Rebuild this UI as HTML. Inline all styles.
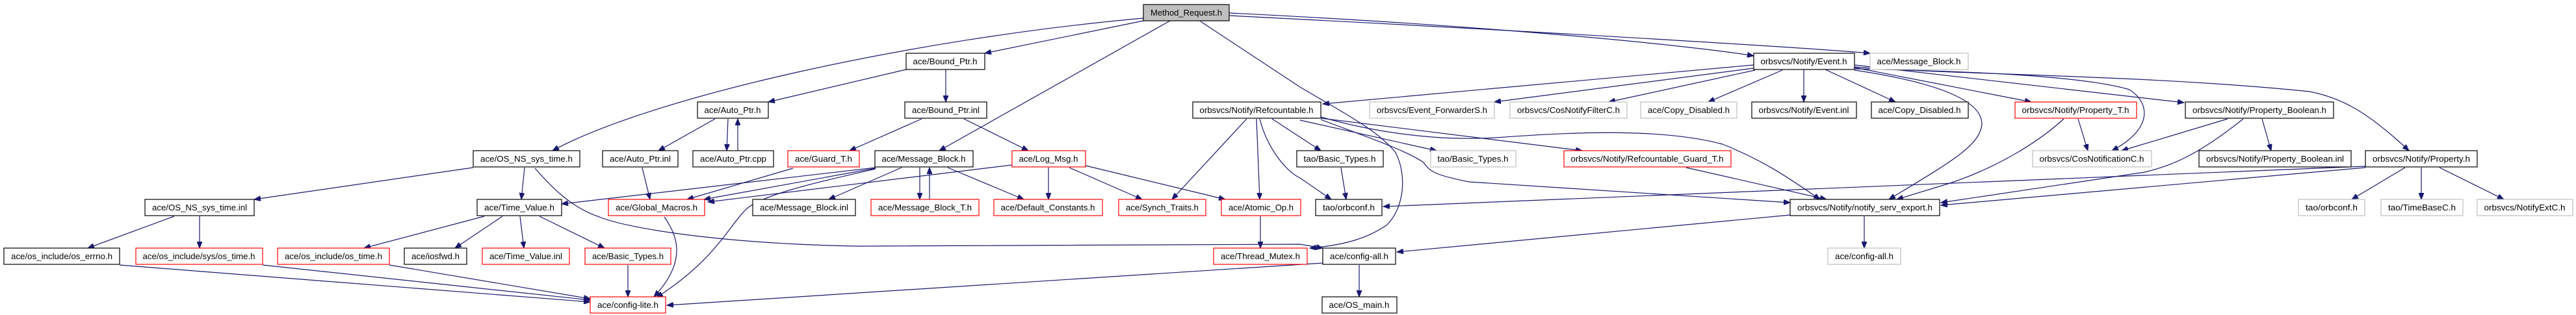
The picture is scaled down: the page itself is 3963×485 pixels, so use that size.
<!DOCTYPE html>
<html><head><meta charset="utf-8"><style>
html,body{margin:0;padding:0;background:#fff;}
svg{display:block;}
text{font-family:"Liberation Sans",sans-serif;font-size:13px;fill:#000;}
.e{fill:none;stroke:#191970;stroke-width:1.2;}
.k{fill:#fff;stroke:#000;stroke-width:1.2;}
.r{fill:#fff;stroke:#ff0000;stroke-width:1.2;}
.g{fill:#fff;stroke:#bfbfbf;stroke-width:1.2;}
</style></head><body>
<svg width="3963" height="485" viewBox="0 0 3963 485" xmlns="http://www.w3.org/2000/svg">
<defs><marker id="a" markerUnits="userSpaceOnUse" markerWidth="11" markerHeight="8" refX="10" refY="4" orient="auto"><path d="M0,0 L10,4 L0,8 Z" fill="#191970" stroke="#191970"/></marker></defs>
<g marker-end="url(#a)">
<path class="e" d="M1759,28 C1400,60 1000,150 850,232"/>
<path class="e" d="M1759,32 L1515,82"/>
<path class="e" d="M1800,32 L1445,232"/>
<path class="e" d="M1847,33 L2000,134 C2060,170 2120,200 2147,235 C2165,270 2160,320 2134,346 C2100,370 2060,378 2015,382"/>
<path class="e" d="M1891,20 C2300,40 2600,70 2698,86"/>
<path class="e" d="M1891,24 C2400,50 2800,75 2877,82"/>
<path class="e" d="M2698,100 L2035,160"/>
<path class="e" d="M2698,105 L2299,157"/>
<path class="e" d="M2700,108 L2475,157"/>
<path class="e" d="M2742,108 L2628,157"/>
<path class="e" d="M2775,107 L2775,157"/>
<path class="e" d="M2808,107 L2916,157"/>
<path class="e" d="M2853,104 L3125,157"/>
<path class="e" d="M2853,100 L3360,158"/>
<path class="e" d="M2853,103 C3000,115 3300,115 3553,141 C3600,150 3640,170 3706,232"/>
<path class="e" d="M2853,106 C3000,109 3200,115 3276,138 C3310,160 3310,200 3249,232"/>
<path class="e" d="M2853,108 C3000,130 3050,160 3049,192 C3045,225 3000,250 2906,307"/>
<path class="e" d="M3197,183 L3212,232"/>
<path class="e" d="M3175,183 C3140,215 3080,255 3000,282 L2918,307"/>
<path class="e" d="M3427,183 L3264,232"/>
<path class="e" d="M3451,183 C3380,240 3340,255 3300,265 L2986,312"/>
<path class="e" d="M3480,183 L3494,232"/>
<path class="e" d="M3700,258 L3618,307"/>
<path class="e" d="M3725,258 L3725,307"/>
<path class="e" d="M3753,258 L3852,307"/>
<path class="e" d="M3639,258 L2986,316"/>
<path class="e" d="M3639,256 L2128,318"/>
<path class="e" d="M2594,258 L2810,307"/>
<path class="e" d="M2868,333 L2868,382"/>
<path class="e" d="M2754,331 L2149,388"/>
<path class="e" d="M2091,408 L2091,457"/>
<path class="e" d="M2035,405 L1026,470"/>
<path class="e" d="M2063,258 L2071,307"/>
<path class="e" d="M1918,183 L1803,307"/>
<path class="e" d="M1933,183 L1938,307"/>
<path class="e" d="M1938,183 C1950,230 1980,265 2000,274 L2048,307"/>
<path class="e" d="M1957,183 L2032,232"/>
<path class="e" d="M2000,185 L2210,232"/>
<path class="e" d="M2032,182 L2434,232"/>
<path class="e" d="M2032,184 C2100,210 2160,230 2190,250 C2200,265 2210,270 2260,280 L2754,312"/>
<path class="e" d="M2032,180 C2100,200 2200,218 2300,212 C2400,205 2550,195 2650,222 C2720,250 2760,280 2800,307"/>
<path class="e" d="M1347,258 L864,314"/>
<path class="e" d="M1220,259 L1057,307"/>
<path class="e" d="M1557,254 L1089,311"/>
<path class="e" d="M1347,259 L1083,307"/>
<path class="e" d="M1347,260 C1260,280 1170,300 1147,323 C1120,350 1100,400 1010,458"/>
<path class="e" d="M1022,334 C1040,360 1060,400 1006,457"/>
<path class="e" d="M1387,258 L1275,307"/>
<path class="e" d="M1415,258 L1415,307"/>
<path class="e" d="M1430,307 L1430,258"/>
<path class="e" d="M1458,258 L1575,307"/>
<path class="e" d="M1613,258 L1613,307"/>
<path class="e" d="M1645,258 L1757,307"/>
<path class="e" d="M1670,255 L1885,307"/>
<path class="e" d="M1939,333 L1939,382"/>
<path class="e" d="M1394,107 L1182,157"/>
<path class="e" d="M1455,107 L1455,157"/>
<path class="e" d="M1418,183 L1307,232"/>
<path class="e" d="M1483,183 L1582,232"/>
<path class="e" d="M1100,183 L1013,232"/>
<path class="e" d="M1120,183 L1118,232"/>
<path class="e" d="M1135,232 L1135,183"/>
<path class="e" d="M988,258 L1000,307"/>
<path class="e" d="M728,258 L391,307"/>
<path class="e" d="M807,258 L802,307"/>
<path class="e" d="M823,259 C850,290 880,320 922,334 C960,350 1100,375 1319,379 L2000,376 L2035,382"/>
<path class="e" d="M268,333 L135,382"/>
<path class="e" d="M307,333 L307,382"/>
<path class="e" d="M745,333 L560,382"/>
<path class="e" d="M773,333 L700,382"/>
<path class="e" d="M800,333 L806,382"/>
<path class="e" d="M830,333 L930,382"/>
<path class="e" d="M184,408 L908,465"/>
<path class="e" d="M404,408 L908,462"/>
<path class="e" d="M599,408 L908,460"/>
<path class="e" d="M966,408 L966,457"/>
</g>
<g>
<rect x="1759" y="7" width="132" height="25" fill="#bfbfbf" stroke="#000" stroke-width="1.2"/><text x="1825" y="24" text-anchor="middle" textLength="110" lengthAdjust="spacingAndGlyphs">Method_Request.h</text>
<rect class="k" x="1394" y="82" width="121" height="25"/><text x="1454" y="99" text-anchor="middle" textLength="99" lengthAdjust="spacingAndGlyphs">ace/Bound_Ptr.h</text>
<rect class="k" x="2698" y="82" width="155" height="25"/><text x="2775" y="99" text-anchor="middle" textLength="133" lengthAdjust="spacingAndGlyphs">orbsvcs/Notify/Event.h</text>
<rect class="g" x="2877" y="82" width="151" height="25"/><text x="2952" y="99" text-anchor="middle" textLength="129" lengthAdjust="spacingAndGlyphs">ace/Message_Block.h</text>
<rect class="k" x="1073" y="157" width="109" height="25"/><text x="1127" y="174" text-anchor="middle" textLength="87" lengthAdjust="spacingAndGlyphs">ace/Auto_Ptr.h</text>
<rect class="k" x="1392" y="157" width="126" height="25"/><text x="1455" y="174" text-anchor="middle" textLength="104" lengthAdjust="spacingAndGlyphs">ace/Bound_Ptr.inl</text>
<rect class="k" x="1835" y="157" width="197" height="25"/><text x="1933" y="174" text-anchor="middle" textLength="175" lengthAdjust="spacingAndGlyphs">orbsvcs/Notify/Refcountable.h</text>
<rect class="g" x="2107" y="157" width="192" height="25"/><text x="2203" y="174" text-anchor="middle" textLength="170" lengthAdjust="spacingAndGlyphs">orbsvcs/Event_ForwarderS.h</text>
<rect class="g" x="2323" y="157" width="180" height="25"/><text x="2413" y="174" text-anchor="middle" textLength="158" lengthAdjust="spacingAndGlyphs">orbsvcs/CosNotifyFilterC.h</text>
<rect class="g" x="2524" y="157" width="148" height="25"/><text x="2598" y="174" text-anchor="middle" textLength="126" lengthAdjust="spacingAndGlyphs">ace/Copy_Disabled.h</text>
<rect class="k" x="2695" y="157" width="161" height="25"/><text x="2775" y="174" text-anchor="middle" textLength="139" lengthAdjust="spacingAndGlyphs">orbsvcs/Notify/Event.inl</text>
<rect class="k" x="2879" y="157" width="149" height="25"/><text x="2953" y="174" text-anchor="middle" textLength="127" lengthAdjust="spacingAndGlyphs">ace/Copy_Disabled.h</text>
<rect class="r" x="3100" y="157" width="187" height="25"/><text x="3193" y="174" text-anchor="middle" textLength="165" lengthAdjust="spacingAndGlyphs">orbsvcs/Notify/Property_T.h</text>
<rect class="k" x="3362" y="157" width="228" height="25"/><text x="3476" y="174" text-anchor="middle" textLength="206" lengthAdjust="spacingAndGlyphs">orbsvcs/Notify/Property_Boolean.h</text>
<rect class="k" x="728" y="232" width="164" height="25"/><text x="810" y="249" text-anchor="middle" textLength="142" lengthAdjust="spacingAndGlyphs">ace/OS_NS_sys_time.h</text>
<rect class="k" x="927" y="232" width="116" height="25"/><text x="985" y="249" text-anchor="middle" textLength="94" lengthAdjust="spacingAndGlyphs">ace/Auto_Ptr.inl</text>
<rect class="k" x="1066" y="232" width="124" height="25"/><text x="1128" y="249" text-anchor="middle" textLength="102" lengthAdjust="spacingAndGlyphs">ace/Auto_Ptr.cpp</text>
<rect class="r" x="1212" y="232" width="110" height="25"/><text x="1267" y="249" text-anchor="middle" textLength="88" lengthAdjust="spacingAndGlyphs">ace/Guard_T.h</text>
<rect class="k" x="1346" y="232" width="151" height="25"/><text x="1421" y="249" text-anchor="middle" textLength="129" lengthAdjust="spacingAndGlyphs">ace/Message_Block.h</text>
<rect class="r" x="1557" y="232" width="113" height="25"/><text x="1613" y="249" text-anchor="middle" textLength="91" lengthAdjust="spacingAndGlyphs">ace/Log_Msg.h</text>
<rect class="k" x="1995" y="232" width="133" height="25"/><text x="2061" y="249" text-anchor="middle" textLength="111" lengthAdjust="spacingAndGlyphs">tao/Basic_Types.h</text>
<rect class="g" x="2201" y="232" width="131" height="25"/><text x="2266" y="249" text-anchor="middle" textLength="109" lengthAdjust="spacingAndGlyphs">tao/Basic_Types.h</text>
<rect class="r" x="2406" y="232" width="257" height="25"/><text x="2534" y="249" text-anchor="middle" textLength="235" lengthAdjust="spacingAndGlyphs">orbsvcs/Notify/Refcountable_Guard_T.h</text>
<rect class="g" x="3127" y="232" width="183" height="25"/><text x="3218" y="249" text-anchor="middle" textLength="161" lengthAdjust="spacingAndGlyphs">orbsvcs/CosNotificationC.h</text>
<rect class="k" x="3383" y="232" width="234" height="25"/><text x="3500" y="249" text-anchor="middle" textLength="212" lengthAdjust="spacingAndGlyphs">orbsvcs/Notify/Property_Boolean.inl</text>
<rect class="k" x="3639" y="232" width="172" height="25"/><text x="3725" y="249" text-anchor="middle" textLength="150" lengthAdjust="spacingAndGlyphs">orbsvcs/Notify/Property.h</text>
<rect class="k" x="223" y="307" width="168" height="25"/><text x="307" y="324" text-anchor="middle" textLength="146" lengthAdjust="spacingAndGlyphs">ace/OS_NS_sys_time.inl</text>
<rect class="k" x="734" y="307" width="130" height="25"/><text x="799" y="324" text-anchor="middle" textLength="108" lengthAdjust="spacingAndGlyphs">ace/Time_Value.h</text>
<rect class="r" x="936" y="307" width="148" height="25"/><text x="1010" y="324" text-anchor="middle" textLength="126" lengthAdjust="spacingAndGlyphs">ace/Global_Macros.h</text>
<rect class="k" x="1158" y="307" width="158" height="25"/><text x="1237" y="324" text-anchor="middle" textLength="136" lengthAdjust="spacingAndGlyphs">ace/Message_Block.inl</text>
<rect class="r" x="1340" y="307" width="166" height="25"/><text x="1423" y="324" text-anchor="middle" textLength="144" lengthAdjust="spacingAndGlyphs">ace/Message_Block_T.h</text>
<rect class="r" x="1529" y="307" width="167" height="25"/><text x="1612" y="324" text-anchor="middle" textLength="145" lengthAdjust="spacingAndGlyphs">ace/Default_Constants.h</text>
<rect class="r" x="1721" y="307" width="134" height="25"/><text x="1788" y="324" text-anchor="middle" textLength="112" lengthAdjust="spacingAndGlyphs">ace/Synch_Traits.h</text>
<rect class="r" x="1879" y="307" width="122" height="25"/><text x="1940" y="324" text-anchor="middle" textLength="100" lengthAdjust="spacingAndGlyphs">ace/Atomic_Op.h</text>
<rect class="k" x="2024" y="307" width="102" height="25"/><text x="2075" y="324" text-anchor="middle" textLength="80" lengthAdjust="spacingAndGlyphs">tao/orbconf.h</text>
<rect class="k" x="2754" y="307" width="230" height="25"/><text x="2869" y="324" text-anchor="middle" textLength="208" lengthAdjust="spacingAndGlyphs">orbsvcs/Notify/notify_serv_export.h</text>
<rect class="g" x="3536" y="307" width="102" height="25"/><text x="3587" y="324" text-anchor="middle" textLength="80" lengthAdjust="spacingAndGlyphs">tao/orbconf.h</text>
<rect class="g" x="3663" y="307" width="126" height="25"/><text x="3726" y="324" text-anchor="middle" textLength="104" lengthAdjust="spacingAndGlyphs">tao/TimeBaseC.h</text>
<rect class="g" x="3811" y="307" width="147" height="25"/><text x="3884" y="324" text-anchor="middle" textLength="125" lengthAdjust="spacingAndGlyphs">orbsvcs/NotifyExtC.h</text>
<rect class="k" x="6" y="382" width="178" height="25"/><text x="95" y="399" text-anchor="middle" textLength="156" lengthAdjust="spacingAndGlyphs">ace/os_include/os_errno.h</text>
<rect class="r" x="209" y="382" width="195" height="25"/><text x="306" y="399" text-anchor="middle" textLength="173" lengthAdjust="spacingAndGlyphs">ace/os_include/sys/os_time.h</text>
<rect class="r" x="427" y="382" width="172" height="25"/><text x="513" y="399" text-anchor="middle" textLength="150" lengthAdjust="spacingAndGlyphs">ace/os_include/os_time.h</text>
<rect class="k" x="622" y="382" width="96" height="25"/><text x="670" y="399" text-anchor="middle" textLength="74" lengthAdjust="spacingAndGlyphs">ace/iosfwd.h</text>
<rect class="r" x="742" y="382" width="134" height="25"/><text x="809" y="399" text-anchor="middle" textLength="112" lengthAdjust="spacingAndGlyphs">ace/Time_Value.inl</text>
<rect class="r" x="900" y="382" width="132" height="25"/><text x="966" y="399" text-anchor="middle" textLength="110" lengthAdjust="spacingAndGlyphs">ace/Basic_Types.h</text>
<rect class="r" x="1867" y="382" width="144" height="25"/><text x="1939" y="399" text-anchor="middle" textLength="122" lengthAdjust="spacingAndGlyphs">ace/Thread_Mutex.h</text>
<rect class="k" x="2035" y="382" width="112" height="25"/><text x="2091" y="399" text-anchor="middle" textLength="90" lengthAdjust="spacingAndGlyphs">ace/config-all.h</text>
<rect class="g" x="2812" y="382" width="112" height="25"/><text x="2868" y="399" text-anchor="middle" textLength="90" lengthAdjust="spacingAndGlyphs">ace/config-all.h</text>
<rect class="r" x="908" y="457" width="116" height="25"/><text x="966" y="474" text-anchor="middle" textLength="94" lengthAdjust="spacingAndGlyphs">ace/config-lite.h</text>
<rect class="k" x="2034" y="457" width="115" height="25"/><text x="2091" y="474" text-anchor="middle" textLength="93" lengthAdjust="spacingAndGlyphs">ace/OS_main.h</text>
</g>
</svg>
</body></html>
